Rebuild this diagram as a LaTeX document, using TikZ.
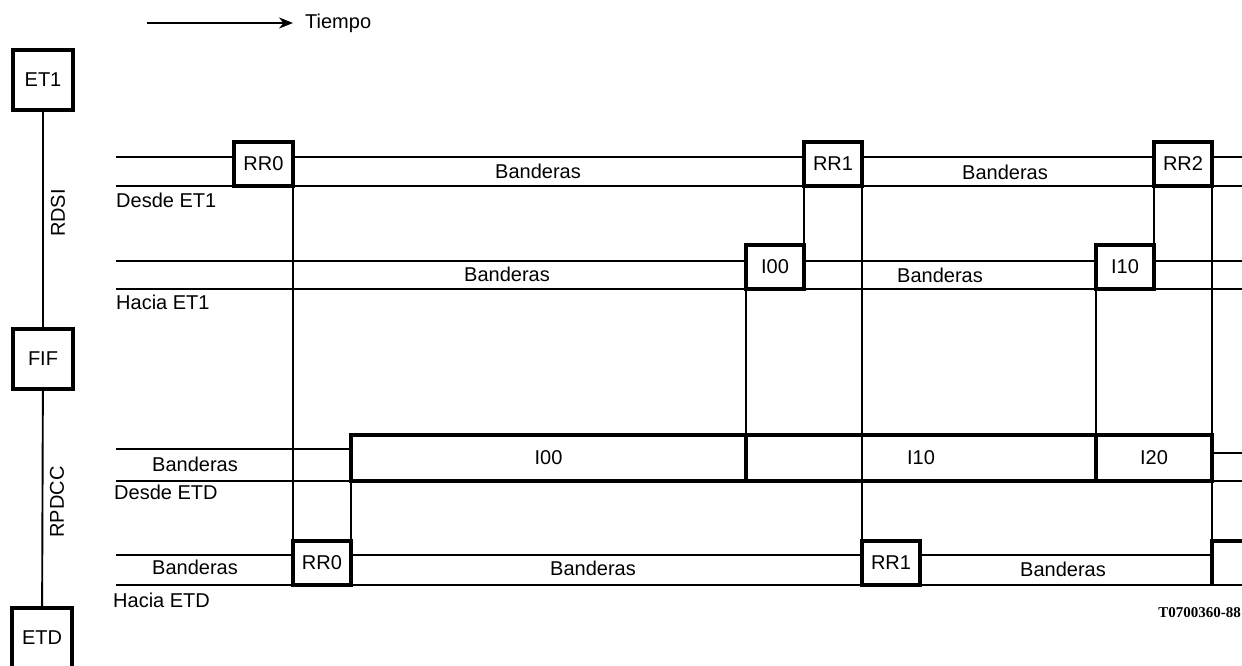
\documentclass[tikz,border=0pt]{standalone}
\usepackage{fontspec}
\setmainfont{Liberation Sans}
\newfontfamily\codefont{Liberation Serif}
\usetikzlibrary{calc,positioning,arrows.meta}

\tikzset{
  station/.style={rectangle, draw, line width=3.2pt, minimum size=60pt, inner sep=0pt, outer sep=0pt,
    font=\fontsize{20}{24}\selectfont},
  pdubox/.style={rectangle, draw, line width=3.2pt, fill=white, inner sep=0pt, outer sep=0pt,
    minimum height=44pt, anchor=south west, font=\fontsize{20}{24}\selectfont},
  flagline/.style={line width=1.9pt},
  txt/.style={font=\fontsize{20}{24}\selectfont, inner sep=0pt},
}

\begin{document}
\begin{tikzpicture}[x=1pt, y=-1pt]
  \useasboundingbox (0,0) rectangle (1242,666);

  % Time arrow
  \coordinate (tstart) at (147,23);
  \node[txt, anchor=west] (tiempo) at (305,23) {Tiempo};
  \draw[flagline, -{Stealth[length=14pt, width=11pt]}] (tstart) -- ([xshift=-12pt]tiempo.west);

  % Stations on the left
  \node[station] (et1) at (43,80) {ET1};
  \node[station] (fif) at (43,359) {FIF};
  \node[station] (etd) at (42,638) {ETD};
  \draw[flagline] (et1) -- (fif);
  \draw[flagline] (fif) -- (etd);
  \node[txt, rotate=90] (rdsi) at (58,213) {RDSI};
  \node[txt, rotate=90] (rpdcc) at (57,502) {RPDCC};

  % Row 1: desde ET1
  \draw[flagline] (116,157) -- (1242,157);
  \draw[flagline] (116,186) -- (1242,186);
  \node[pdubox, minimum width=59pt] (rr0a) at (234,186) {RR0};
  \node[pdubox, minimum width=58pt] (rr1a) at (804,186) {RR1};
  \node[pdubox, minimum width=58pt] (rr2a) at (1154,186) {RR2};
  \node[txt] at (538,171) {Banderas};
  \node[txt] at (1005,172) {Banderas};
  \node[txt, anchor=west] (desdeet1) at (116,200) {Desde ET1};

  % Row 2: hacia ET1
  \draw[flagline] (116,261) -- (1242,261);
  \draw[flagline] (116,289) -- (1242,289);
  \node[pdubox, minimum width=58pt] (i00b) at (746,289) {I00};
  \node[pdubox, minimum width=58pt] (i10b) at (1096,289) {I10};
  \node[txt] at (507,274) {Banderas};
  \node[txt] at (940,275) {Banderas};
  \node[txt, anchor=west] (haciaet1) at (116,302) {Hacia ET1};

  % Row 3: desde ETD
  \draw[flagline] (116,449) -- (351,449);
  \draw[flagline] (1212,453) -- (1242,453);
  \draw[flagline] (116,481) -- (1242,481);
  \node[pdubox, minimum height=46pt, minimum width=395pt] (i00c) at (351,481) {I00};
  \node[pdubox, minimum height=46pt, minimum width=350pt] (i10c) at (746,481) {I10};
  \node[pdubox, minimum height=46pt, minimum width=116pt] (i20c) at (1096,481) {I20};
  \node[txt] at (195,464) {Banderas};
  \node[txt, anchor=west] (desdeetd) at (114,492) {Desde ETD};

  % Row 4: hacia ETD
  \draw[flagline] (116,555) -- (1212,555);
  \draw[flagline] (116,585) -- (1242,585);
  \node[pdubox, minimum width=58pt] (rr0d) at (293,585) {RR0};
  \node[pdubox, minimum width=58pt] (rr1d) at (862,585) {RR1};
  \coordinate (nxt) at (1212,541);
  \draw[line width=3.2pt] (1242,541) -- (nxt) -- (1212,585);
  \node[txt] at (195,567) {Banderas};
  \node[txt] at (593,568) {Banderas};
  \node[txt] at (1063,569) {Banderas};
  \node[txt, anchor=west] (haciaetd) at (113,600) {Hacia ETD};

  % Relaying between the links
  \draw[flagline] (rr0a.south east) -- (rr0d.north west);
  \draw[flagline] (rr0d.north east) -- (i00c.south west);
  \draw[flagline] (rr1a.south west) -- (i00b.north east);
  \draw[flagline] (i00b.south west) -- (i00c.north east);
  \draw[flagline] (rr1a.south east) -- (rr1d.north west);
  \draw[flagline] (rr2a.south west) -- (i10b.north east);
  \draw[flagline] (i10b.south west) -- (i10c.north east);
  \draw[flagline] (rr2a.south east) -- (nxt);

  % Figure number
  \node[anchor=east, inner sep=0pt, font=\codefont\bfseries\fontsize{15}{17}\selectfont] (figno) at (1241,613) {T0700360-88};
\end{tikzpicture}
\end{document}
